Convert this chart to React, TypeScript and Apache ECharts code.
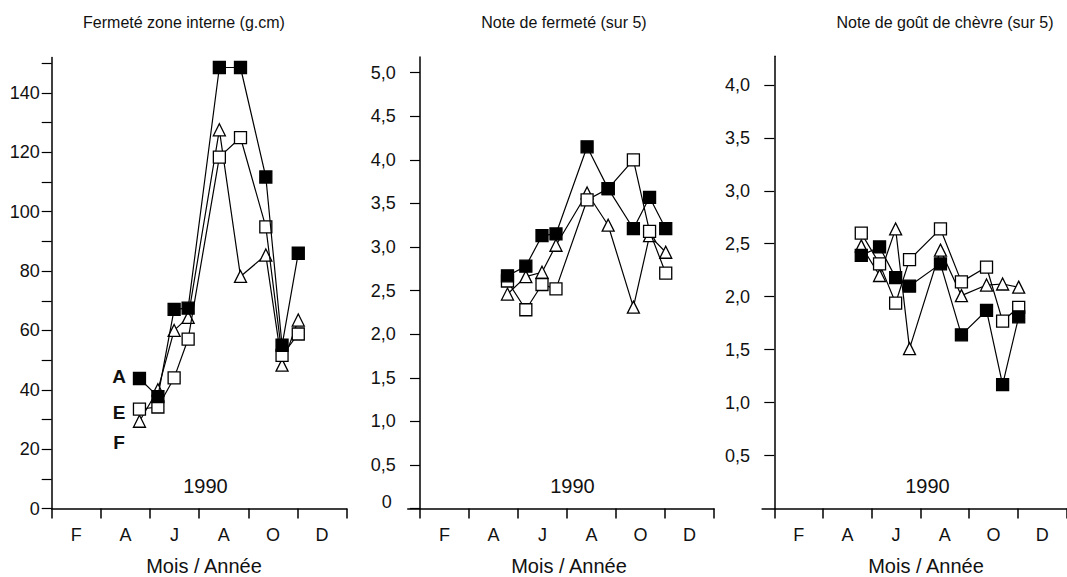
import React, { useEffect, useRef } from 'react';
import * as echarts from 'echarts';

// Sampling dates, in months since 1 January 1990
const dates = [3.57, 4.32, 4.98, 5.55, 6.82, 7.68, 8.71, 9.37, 10.03];
const monthTickValues = [0, 2, 4, 6, 8, 10, 12];
const monthLabelValues = [1, 3, 5, 7, 9, 11];
const monthLabels = ['F', 'A', 'J', 'A', 'O', 'D'];

// Panel 1: Fermeté zone interne (g.cm)
const firmA = [43.8, 37.7, 67.1, 67.5, 148.6, 148.6, 111.7, 55, 86];
const firmE = [33.5, 34.2, 44, 57.1, 118.4, 125, 94.9, 51.6, 58.8];
const firmF = [29.4, 40, 60, 64.4, 127.6, 78.2, 85.4, 48.3, 63.5];
const firmTicks = [0, 10, 20, 30, 40, 50, 60, 70, 80, 90, 100, 110, 120, 130, 140, 150];
const firmLabels = [0, 20, 40, 60, 80, 100, 120, 140];

// Panel 2: Note de fermeté (sur 5)
const noteA = [2.67, 2.78, 3.13, 3.15, 4.15, 3.67, 3.21, 3.57, 3.21];
const noteE = [2.61, 2.28, 2.57, 2.52, 3.54, 3.67, 4.0, 3.18, 2.7];
const noteF = [2.46, 2.66, 2.71, 3.02, 3.62, 3.25, 2.31, 3.13, 2.94];
const noteTicks = [0, 0.5, 1, 1.5, 2, 2.5, 3, 3.5, 4, 4.5, 5];

// Panel 3: Note de goût de chèvre (sur 5)
const goatA = [2.39, 2.47, 2.18, 2.1, 2.31, 1.64, 1.87, 1.17, 1.81];
const goatE = [2.6, 2.31, 1.94, 2.35, 2.64, 2.14, 2.28, 1.77, 1.9];
const goatF = [2.48, 2.2, 2.64, 1.51, 2.44, 2.01, 2.11, 2.12, 2.09];
const goatTicks = [0.5, 1, 1.5, 2, 2.5, 3, 3.5, 4];

const titles = ['Fermeté zone interne (g.cm)', 'Note de fermeté (sur 5)', 'Note de goût de chèvre (sur 5)'];
const yearLabel = '1990';
const xName = 'Mois / Année';
const seriesNames = ['A', 'E', 'F'];

const FONT = '"Liberation Sans", Arial, Helvetica, sans-serif';

const comma = (v: number) => (v === 0 ? '{z|0}' : v.toFixed(1).replace('.', ','));

function xAxis(gridIndex: number, min: number) {
  return {
    type: 'value',
    gridIndex,
    min,
    max: 12,
    axisLine: { onZero: false, lineStyle: { color: '#000', width: 1.5 } },
    axisTick: { customValues: monthTickValues, length: 10, lineStyle: { color: '#000', width: 1.5 } },
    axisLabel: {
      customValues: monthLabelValues,
      formatter: (v: number) => monthLabels[monthLabelValues.indexOf(Math.round(v))] ?? '',
      color: '#111',
      fontFamily: FONT,
      fontSize: 18,
      margin: 17,
    },
    splitLine: { show: false },
  };
}

function yAxis(gridIndex: number, max: number, ticks: number[], labels: number[], fmt: (v: number) => string) {
  return {
    type: 'value',
    gridIndex,
    min: 0,
    max,
    axisLine: { show: true, onZero: true, lineStyle: { color: '#000', width: 1.5 } },
    axisTick: { show: true, customValues: ticks, length: 10, lineStyle: { color: '#000', width: 1.2 } },
    axisLabel: {
      customValues: labels,
      formatter: fmt,
      color: '#111',
      fontFamily: FONT,
      fontSize: 18,
      margin: 12,
      rich: {
        z: { fontFamily: FONT, fontSize: 18, color: '#111', padding: [0, 4, 14, 0] },
      },
    },
    splitLine: { show: false },
  };
}

function series(idx: number, name: string, values: number[], symbol: string, filled: boolean) {
  return {
    type: 'line',
    name,
    xAxisIndex: idx,
    yAxisIndex: idx,
    data: dates.map((d, i) => [d, values[i]]),
    symbol,
    symbolSize: 12,
    showAllSymbol: true,
    lineStyle: { color: '#000', width: 1.2 },
    itemStyle: { color: filled ? '#000' : '#fff', borderColor: '#000', borderWidth: 1.3 },
    z: filled ? 4 : symbol === 'rect' ? 3 : 2,
  };
}

function text(t: string, x: number, y: number, size: number, bold = false) {
  return {
    type: 'text',
    x,
    y,
    style: {
      text: t,
      fill: '#111',
      font: `${bold ? 'bold ' : ''}${size}px ${FONT}`,
      align: 'center',
      verticalAlign: 'middle',
    },
  };
}

export default function App() {
  const ref = useRef<HTMLDivElement>(null);
  useEffect(() => {
    if (!ref.current) return;
    const chart = echarts.init(ref.current, undefined, { renderer: 'svg' });
    const option = {
      animation: false,
      backgroundColor: '#fff',
      grid: [
        { left: 51.7, top: 57.4, width: 295, height: 451.1 },
        { left: 407.75, top: 57, width: 306.25, height: 451.5 },
        { left: 762.1, top: 56.3, width: 304.6, height: 452.2 },
      ],
      xAxis: [xAxis(0, 0), xAxis(1, -0.5), xAxis(2, -0.5)],
      yAxis: [
        yAxis(0, 152, firmTicks, firmLabels, (v: number) => String(v)),
        yAxis(1, 5.18, noteTicks, noteTicks, comma),
        yAxis(2, 4.27, goatTicks, goatTicks, comma),
      ],
      series: [
        series(0, 'F', firmF, 'triangle', false),
        series(0, 'E', firmE, 'rect', false),
        series(0, 'A', firmA, 'rect', true),
        series(1, 'F', noteF, 'triangle', false),
        series(1, 'E', noteE, 'rect', false),
        series(1, 'A', noteA, 'rect', true),
        series(2, 'F', goatF, 'triangle', false),
        series(2, 'E', goatE, 'rect', false),
        series(2, 'A', goatA, 'rect', true),
      ],
      graphic: [
        text(titles[0], 184, 22, 16),
        text(titles[1], 564, 22, 16),
        text(titles[2], 945, 22, 16),
        text(yearLabel, 205.5, 486, 20),
        text(yearLabel, 572.5, 486, 20),
        text(yearLabel, 927.5, 486, 20),
        text(xName, 204, 566, 20),
        text(xName, 569, 566, 20),
        text(xName, 926, 566, 20),
        text(seriesNames[0], 119, 376, 19, true),
        text(seriesNames[1], 119, 412, 19, true),
        text(seriesNames[2], 119, 442, 19, true),
      ],
    };
    chart.setOption(option as any);
    return () => chart.dispose();
  }, []);
  return (
    <div
      ref={ref}
      style={{ position: 'fixed', left: 0, top: 0, width: 1067, height: 577, background: '#fff' }}
    />
  );
}
